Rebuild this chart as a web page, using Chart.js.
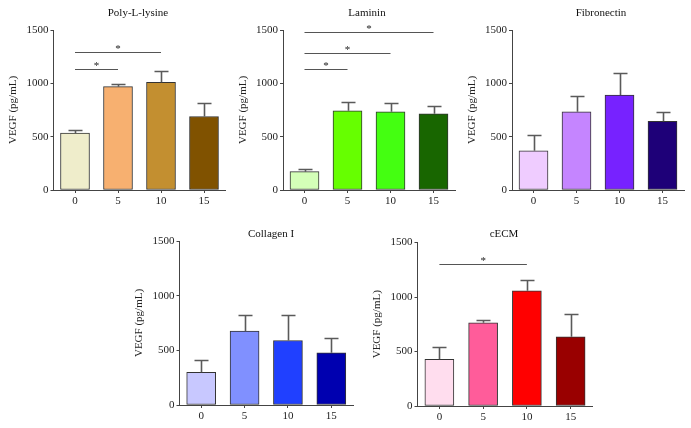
<!DOCTYPE html>
<html>
<head>
<meta charset="utf-8">
<script src="https://cdn.jsdelivr.net/npm/chart.js@4.4.1/dist/chart.umd.min.js"></script>
<style>
  html, body { margin: 0; padding: 0; background: #fff; }
  #wrap { position: relative; width: 691px; height: 428px; overflow: hidden; }
  #wrap canvas { position: absolute; }
</style>
</head>
<body>
<div id="wrap"></div>
<script>
"use strict";

// ---------- data ----------
const categories = ["0", "5", "10", "15"];
const yTicks = [0, 500, 1000, 1500];
const yLabel = "VEGF (pg/mL)";

const polyMean = [533, 969, 1010, 689];
const polySd = [31, 23, 109, 131];
const polySig = [[0, 1, 1135], [0, 2, 1294]];

const lamMean = [172, 743, 734, 715];
const lamSd = [22, 82, 78, 69];
const lamSig = [[0, 1, 1137], [0, 2, 1284], [0, 3, 1478]];

const fibMean = [368, 734, 891, 644];
const fibSd = [150, 150, 203, 90];

const colMean = [299, 675, 590, 477];
const colSd = [110, 144, 229, 134];

const ecmMean = [428, 763, 1057, 635];
const ecmSd = [116, 28, 98, 208];
const ecmSig = [[0, 2, 1301]];

// ---------- panels (chart area in page px) ----------
const panels = [
  { title: "Poly-L-lysine", mean: polyMean, sd: polySd, sig: polySig,
    colors: ["#efedcb", "#f7b070", "#c38f30", "#805200"],
    l: 53.5, r: 225.5, t: 30, b: 190, tx: 138, ty: 13 },
  { title: "Laminin", mean: lamMean, sd: lamSd, sig: lamSig,
    colors: ["#d4ffb8", "#66ff00", "#44ff11", "#186600"],
    l: 283, r: 455, t: 30, b: 190, tx: 367, ty: 13 },
  { title: "Fibronectin", mean: fibMean, sd: fibSd, sig: [],
    colors: ["#efccff", "#c585ff", "#7722ff", "#1e0078"],
    l: 512, r: 684, t: 30, b: 190, tx: 601, ty: 13 },
  { title: "Collagen I", mean: colMean, sd: colSd, sig: [],
    colors: ["#c8c8ff", "#8090ff", "#2040ff", "#0000b0"],
    l: 179.5, r: 353, t: 241, b: 404.5, tx: 271, ty: 234 },
  { title: "cECM", mean: ecmMean, sd: ecmSd, sig: ecmSig,
    colors: ["#ffddee", "#ff5c9a", "#ff0000", "#990000"],
    l: 417.5, r: 592.5, t: 242.5, b: 406, tx: 504, ty: 234 },
];

const FONT = "'Liberation Serif', 'DejaVu Serif', serif";
const AXIS = "#444";

// error bars, significance brackets and panel title
const decorPlugin = {
  id: "decor",
  afterDatasetsDraw(chart, args, opts) {
    const { ctx, scales } = chart;
    const xs = scales.x, ys = scales.y;
    ctx.save();
    // error bars (upper whisker only)
    ctx.strokeStyle = "#5a5a5a";
    ctx.lineWidth = 1.6;
    opts.mean.forEach((m, i) => {
      const x = Math.round(xs.getPixelForValue(i)) + 0.5;
      const y0 = ys.getPixelForValue(m);
      const y1 = Math.round(ys.getPixelForValue(m + opts.sd[i])) + 0.5;
      ctx.beginPath();
      ctx.moveTo(x, y0);
      ctx.lineTo(x, y1);
      ctx.moveTo(x - 7, y1);
      ctx.lineTo(x + 7, y1);
      ctx.stroke();
    });
    // brackets
    ctx.strokeStyle = "#555";
    ctx.lineWidth = 1.2;
    ctx.fillStyle = "#222";
    ctx.font = "11px " + FONT;
    ctx.textAlign = "center";
    ctx.textBaseline = "middle";
    opts.sig.forEach(([a, b, v]) => {
      const x1 = xs.getPixelForValue(a);
      const x2 = xs.getPixelForValue(b);
      const y = Math.round(ys.getPixelForValue(v)) + 0.5;
      ctx.beginPath();
      ctx.moveTo(x1, y);
      ctx.lineTo(x2, y);
      ctx.stroke();
      ctx.fillText("*", (x1 + x2) / 2, y - 3);
    });
    // title
    ctx.fillStyle = "#111";
    ctx.font = "11px " + FONT;
    ctx.fillText(opts.title, opts.tx, opts.ty);
    ctx.restore();
  },
};

const wrap = document.getElementById("wrap");

panels.forEach((p) => {
  const cl = Math.floor(p.l - 54);
  const ct = Math.floor(p.t - 30);
  const w = Math.ceil(p.r + 6 - cl);
  const h = Math.ceil(p.b + 24 - ct);
  const padTop = p.t - ct;
  const padRight = w - (p.r - cl);
  const axisW = p.l - cl;
  const titleCenter = p.l - 40 - cl;

  const canvas = document.createElement("canvas");
  canvas.width = w;
  canvas.height = h;
  canvas.style.left = cl + "px";
  canvas.style.top = ct + "px";
  wrap.appendChild(canvas);

  new Chart(canvas.getContext("2d"), {
    type: "bar",
    data: {
      labels: categories,
      datasets: [
        {
          data: p.mean,
          backgroundColor: p.colors,
          borderColor: "#333",
          borderWidth: 1,
          borderSkipped: false,
          barThickness: 29,
        },
      ],
    },
    options: {
      responsive: false,
      animation: false,
      devicePixelRatio: 1,
      layout: { padding: { top: padTop, right: padRight, bottom: 0, left: 0 } },
      plugins: {
        legend: { display: false },
        tooltip: { enabled: false },
        decor: { mean: p.mean, sd: p.sd, sig: p.sig, title: p.title, tx: p.tx - cl, ty: p.ty - ct },
      },
      scales: {
        x: {
          type: "category",
          offset: true,
          grid: { offset: false, drawOnChartArea: false, tickLength: 3, color: AXIS },
          border: { color: AXIS, width: 1 },
          ticks: { color: "#222", padding: 2, font: { family: FONT, size: 11 } },
          afterFit: (s) => { s.height = 24; },
        },
        y: {
          min: 0,
          max: 1500,
          afterBuildTicks: (s) => { s.ticks = yTicks.map((v) => ({ value: v })); },
          grid: { drawOnChartArea: false, tickLength: 3, color: AXIS },
          border: { color: AXIS, width: 1 },
          ticks: {
            color: "#222",
            padding: 2,
            font: { family: FONT, size: 11 },
            callback: (v) => String(v),
          },
          title: {
            display: true,
            text: yLabel,
            color: "#222",
            font: { family: FONT, size: 11 },
            padding: { top: titleCenter - 6.6, bottom: 0 },
          },
          afterFit: (s) => { s.width = axisW; },
        },
      },
    },
    plugins: [decorPlugin],
  });
});
</script>
</body>
</html>
